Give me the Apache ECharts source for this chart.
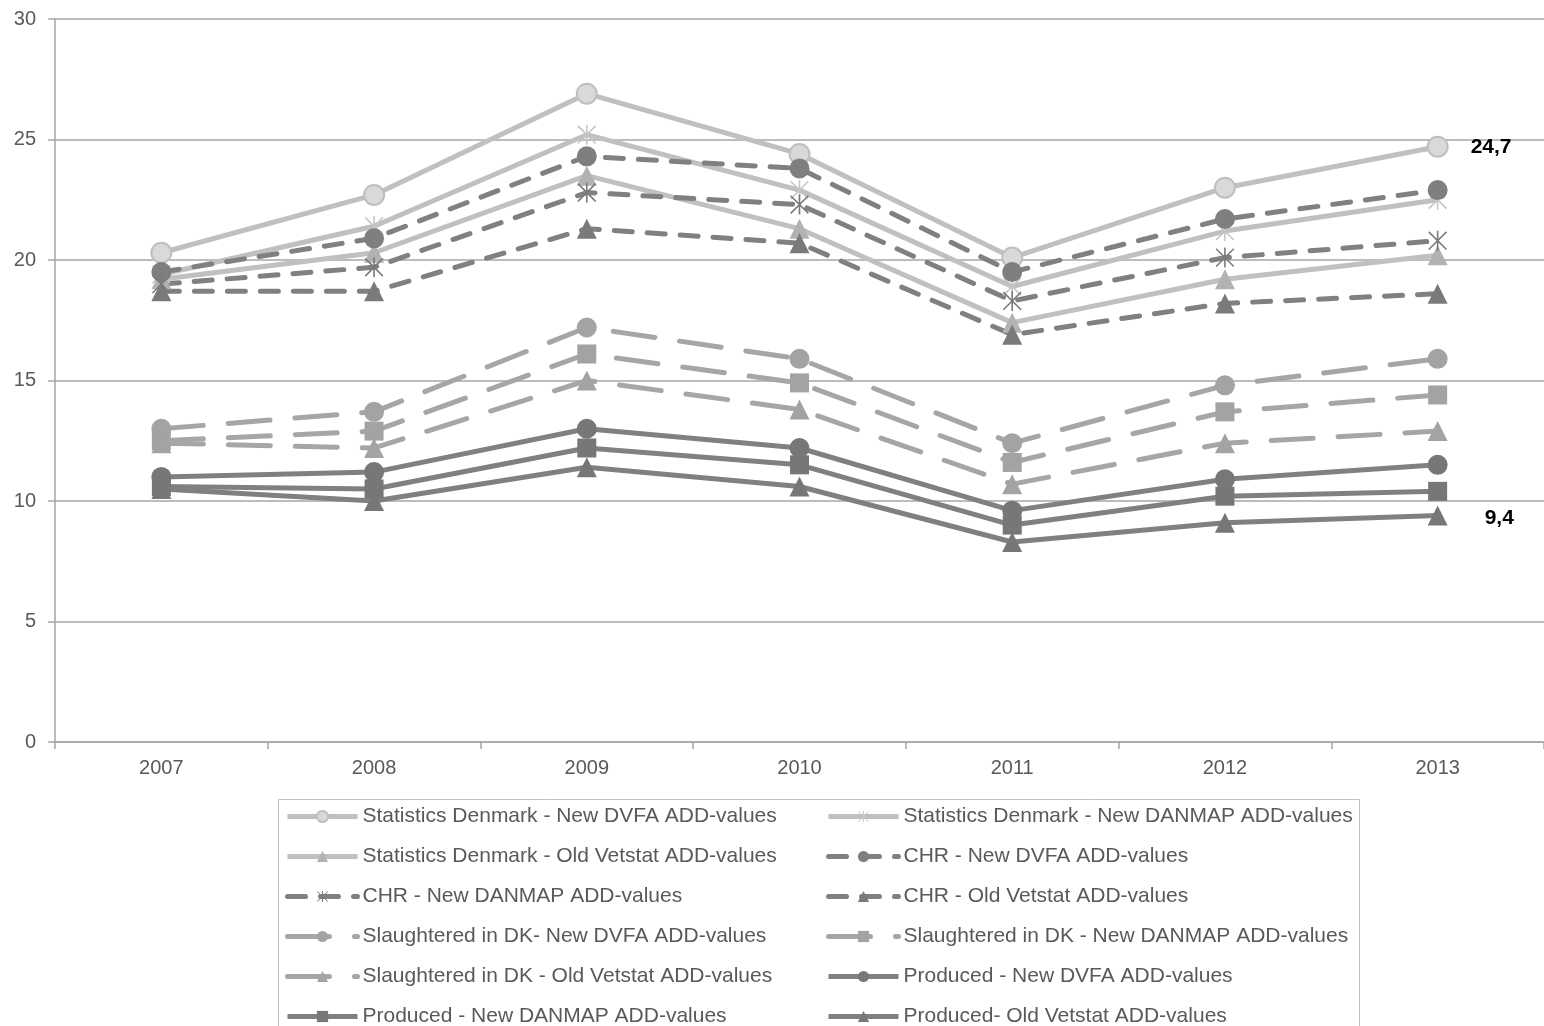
<!DOCTYPE html>
<html>
<head>
<meta charset="utf-8">
<title>ADD-values 2007-2013</title>
<script src="https://cdn.jsdelivr.net/npm/echarts@6/dist/echarts.min.js"></script>
<style>
  html, body { margin: 0; padding: 0; background: #ffffff; }
  #chart { width: 1544px; height: 1026px; }
</style>
</head>
<body>
<div id="chart"></div>
<script>
// Categories and axis ticks
const years = ['2007', '2008', '2009', '2010', '2011', '2012', '2013'];
const yTicks = [0, 5, 10, 15, 20, 25, 30];

// Statistics Denmark
const statsNewDvfa    = [20.3, 22.7, 26.9, 24.4, 20.1, 23.0, 24.7];
const statsNewDanmap  = [19.4, 21.4, 25.2, 22.9, 18.9, 21.2, 22.5];
const statsOldVetstat = [19.2, 20.3, 23.5, 21.3, 17.4, 19.2, 20.2];

// CHR
const chrNewDvfa    = [19.5, 20.9, 24.3, 23.8, 19.5, 21.7, 22.9];
const chrNewDanmap  = [19.0, 19.7, 22.8, 22.3, 18.3, 20.1, 20.8];
const chrOldVetstat = [18.7, 18.7, 21.3, 20.7, 16.9, 18.2, 18.6];

// Slaughtered in DK
const slNewDvfa    = [13.0, 13.7, 17.2, 15.9, 12.4, 14.8, 15.9];
const slNewDanmap  = [12.5, 12.9, 16.1, 14.9, 11.6, 13.7, 14.4];
const slOldVetstat = [12.4, 12.2, 15.0, 13.8, 10.7, 12.4, 12.9];

// Produced
const prodNewDvfa    = [11.0, 11.2, 13.0, 12.2, 9.6, 10.9, 11.5];
const prodNewDanmap  = [10.6, 10.5, 12.2, 11.5, 9.0, 10.2, 10.4];
const prodOldVetstat = [10.5, 10.0, 11.4, 10.6, 8.3, 9.1, 9.4];

const FONT = 'Liberation Sans, Arial, sans-serif';
const TEXT = '#595959';
const GRID = '#a6a6a6';

// Six-armed star marker (X plus vertical bar)
const ASTERISK = 'path://M9.2,0L10.8,0L10.8,20L9.2,20Z' +
  'M0.6,1.7L1.7,0.6L19.4,18.3L18.3,19.4Z' +
  'M18.3,0.6L19.4,1.7L1.7,19.4L0.6,18.3Z';

const CHR_DASH = [18, 15];
const SL_DASH = [42, 25];

// Value label on the final point, decimal comma
function withEndLabel(values, distance, offset) {
  return values.map((v, i) => i === values.length - 1 ? {
    value: v,
    label: {
      show: true,
      position: 'right',
      distance: distance,
      offset: offset,
      color: '#000000',
      fontWeight: 'bold',
      fontSize: 21,
      fontFamily: FONT,
      formatter: p => String(p.value).replace('.', ',')
    }
  } : v);
}

function line(name, data, opts) {
  return Object.assign({
    name: name,
    type: 'line',
    data: data,
    symbolKeepAspect: true,
    emphasis: { disabled: true },
    silent: true
  }, opts);
}

const series = [
  line('Statistics Denmark - New DVFA ADD-values', withEndLabel(statsNewDvfa, 22, [0, 0]), {
    symbol: 'circle', symbolSize: 20,
    lineStyle: { color: '#c0c0c0', width: 5 },
    itemStyle: { color: '#d9d9d9', borderColor: '#bfbfbf', borderWidth: 2 }
  }),
  line('Statistics Denmark - New DANMAP ADD-values', statsNewDanmap, {
    symbol: ASTERISK, symbolSize: 20,
    lineStyle: { color: '#c0c0c0', width: 5 },
    itemStyle: { color: '#c6c6c6' }
  }),
  line('Statistics Denmark - Old Vetstat ADD-values', statsOldVetstat, {
    symbol: 'triangle', symbolSize: 20,
    lineStyle: { color: '#c0c0c0', width: 5 },
    itemStyle: { color: '#b2b2b2' }
  }),
  line('CHR - New DVFA ADD-values', chrNewDvfa, {
    symbol: 'circle', symbolSize: 20,
    lineStyle: { color: '#808080', width: 5, type: CHR_DASH, cap: 'round' },
    itemStyle: { color: '#7f7f7f' }
  }),
  line('CHR - New DANMAP ADD-values', chrNewDanmap, {
    symbol: ASTERISK, symbolSize: 20,
    lineStyle: { color: '#808080', width: 5, type: CHR_DASH, cap: 'round' },
    itemStyle: { color: '#7a7a7a' }
  }),
  line('CHR - Old Vetstat ADD-values', chrOldVetstat, {
    symbol: 'triangle', symbolSize: 20,
    lineStyle: { color: '#808080', width: 5, type: CHR_DASH, cap: 'round' },
    itemStyle: { color: '#7a7a7a' }
  }),
  line('Slaughtered in DK- New DVFA ADD-values', slNewDvfa, {
    symbol: 'circle', symbolSize: 20,
    lineStyle: { color: '#a6a6a6', width: 5, type: SL_DASH, cap: 'round' },
    itemStyle: { color: '#a3a3a3' }
  }),
  line('Slaughtered in DK - New DANMAP ADD-values', slNewDanmap, {
    symbol: 'rect', symbolSize: 19,
    lineStyle: { color: '#a6a6a6', width: 5, type: SL_DASH, cap: 'round' },
    itemStyle: { color: '#a3a3a3' }
  }),
  line('Slaughtered in DK - Old Vetstat ADD-values', slOldVetstat, {
    symbol: 'triangle', symbolSize: 20,
    lineStyle: { color: '#a6a6a6', width: 5, type: SL_DASH, cap: 'round' },
    itemStyle: { color: '#a3a3a3' }
  }),
  line('Produced - New DVFA ADD-values', prodNewDvfa, {
    symbol: 'circle', symbolSize: 20,
    lineStyle: { color: '#808080', width: 5 },
    itemStyle: { color: '#777777' }
  }),
  line('Produced - New DANMAP ADD-values', prodNewDanmap, {
    symbol: 'rect', symbolSize: 19,
    lineStyle: { color: '#808080', width: 5 },
    itemStyle: { color: '#777777' }
  }),
  line('Produced- Old Vetstat ADD-values', withEndLabel(prodOldVetstat, 37, [0, 3]), {
    symbol: 'triangle', symbolSize: 20,
    lineStyle: { color: '#808080', width: 5 },
    itemStyle: { color: '#777777' }
  })
];

const names = series.map(s => s.name);
const legendCommon = {
  orient: 'vertical',
  top: 806,
  height: 320,
  padding: 0,
  itemWidth: 70,
  itemHeight: 14,
  itemGap: 19,
  selectedMode: false,
  lineStyle: { width: 5 },
  textStyle: { color: TEXT, fontSize: 21, fontFamily: FONT }
};

const chart = echarts.init(document.getElementById('chart'), null, { renderer: 'canvas' });
chart.setOption({
  animation: false,
  backgroundColor: '#ffffff',
  textStyle: { fontFamily: FONT },
  grid: { left: 55, top: 19, width: 1498, height: 723, containLabel: false },
  xAxis: {
    type: 'category',
    data: years,
    boundaryGap: true,
    axisLine: { show: true, lineStyle: { color: GRID, width: 1.5 } },
    axisTick: { show: true, length: 7, lineStyle: { color: GRID, width: 1.5 } },
    axisLabel: { color: TEXT, fontSize: 20, fontFamily: FONT, margin: 16 },
    splitLine: { show: false }
  },
  yAxis: {
    type: 'value',
    min: yTicks[0],
    max: yTicks[yTicks.length - 1],
    interval: yTicks[1] - yTicks[0],
    axisLine: { show: true, lineStyle: { color: GRID, width: 1.5 } },
    axisTick: { show: true, length: 7, lineStyle: { color: GRID, width: 1.5 } },
    axisLabel: { color: TEXT, fontSize: 20, fontFamily: FONT, margin: 19 },
    splitLine: { show: true, lineStyle: { color: GRID, width: 1.5 } }
  },
  legend: [
    Object.assign({}, legendCommon, { left: 285, data: names.filter((n, i) => i % 2 === 0) }),
    Object.assign({}, legendCommon, { left: 826, data: names.filter((n, i) => i % 2 === 1) })
  ],
  graphic: [{
    type: 'rect',
    left: 276,
    top: 797,
    silent: true,
    shape: { width: 1081, height: 260 },
    style: { fill: 'none', stroke: '#bfbfbf', lineWidth: 1 }
  }],
  series: series
});
</script>
</body>
</html>
